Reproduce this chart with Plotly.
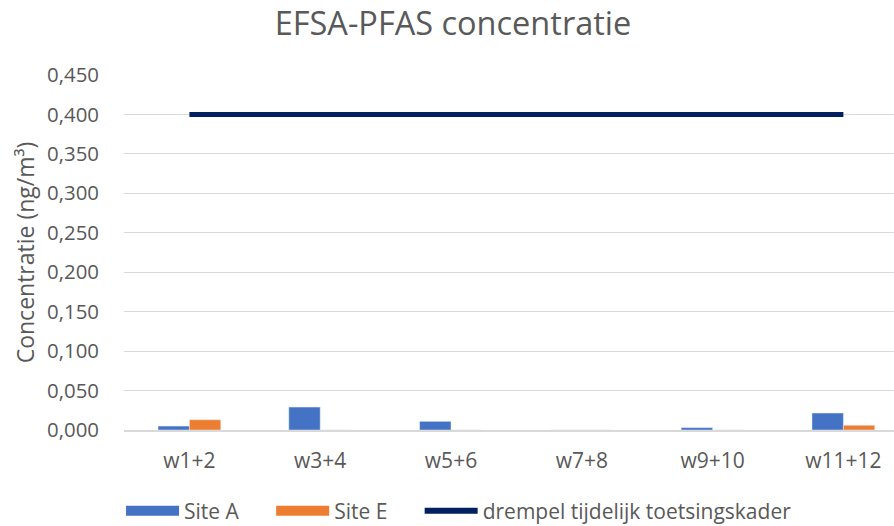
import plotly.graph_objects as go

categories = ["w1+2", "w3+4", "w5+6", "w7+8", "w9+10", "w11+12"]
site_a = [0.005, 0.029, 0.011, 0.0, 0.003, 0.0215]
site_e = [0.013, 0.0, 0.0, 0.0, 0.0, 0.006]
drempel = [0.400, 0.400, 0.400, 0.400, 0.400, 0.400]
y_ticks = [0.0, 0.05, 0.1, 0.15, 0.2, 0.25, 0.3, 0.35, 0.4, 0.45]

FONT = "'Open Sans', sans-serif"
GREY = "#595959"
BLUE = "#4472C4"
ORANGE = "#ED7D31"
NAVY = "#002060"
PAD = "\u00a0" * 5

fig = go.Figure()
fig.add_trace(go.Bar(x=categories, y=site_a, name="Site A", marker_color=BLUE,
                     showlegend=False, legendgroup="a"))
fig.add_trace(go.Bar(x=categories, y=site_e, name="Site E", marker_color=ORANGE,
                     showlegend=False, legendgroup="e"))
fig.add_trace(go.Scatter(x=categories, y=drempel, name="drempel tijdelijk toetsingskader",
                         mode="lines", line=dict(color=NAVY, width=5), showlegend=False))
# legend keys styled like the original (wide rectangles for bars)
fig.add_trace(go.Scatter(x=[None], y=[None], name="Site A" + PAD, mode="lines",
                         line=dict(color=BLUE, width=14), legendgroup="a"))
fig.add_trace(go.Scatter(x=[None], y=[None], name="Site E" + PAD, mode="lines",
                         line=dict(color=ORANGE, width=14), legendgroup="e"))
fig.add_trace(go.Scatter(x=[None], y=[None], name="drempel tijdelijk toetsingskader",
                         mode="lines", line=dict(color=NAVY, width=6)))

fig.update_layout(
    width=894, height=526,
    paper_bgcolor="white", plot_bgcolor="white",
    margin=dict(l=124, r=0, t=75, b=96, autoexpand=False),
    separators=",.",
    barmode="group", bargap=0.52, bargroupgap=0,
    font=dict(family=FONT, color=GREY, size=20),
    title=dict(text="EFSA-PFAS concentratie", x=453 / 894, xanchor="center",
               y=1 - 24 / 526, yanchor="middle", yref="container",
               font=dict(size=32.5, color=GREY, family=FONT)),
    legend=dict(orientation="h", x=389 / 894, xanchor="center", y=15 / 526, yanchor="middle",
                yref="container", font=dict(size=21, color=GREY), traceorder="normal",
                itemwidth=53, tracegroupgap=0),
    showlegend=True,
)
fig.update_xaxes(range=[-0.5, 5.387], showgrid=False, showline=True, linecolor="#D9D9D9",
                 linewidth=1.5, ticks="", ticklabelstandoff=11,
                 tickfont=dict(size=21, color=GREY))
fig.update_yaxes(range=[0, 0.45], tickvals=y_ticks, tickformat=".3f", showgrid=True,
                 gridcolor="#D9D9D9", gridwidth=1, zeroline=False, showline=False,
                 ticks="", ticklabelstandoff=24, tickfont=dict(size=20.4, color=GREY),
                 title=dict(text="Concentratie (ng/m³)", font=dict(size=23, color=GREY),
                            standoff=6))

fig.write_html("out.html", config={"displayModeBar": False},
               post_script="document.body.style.margin='0';")
